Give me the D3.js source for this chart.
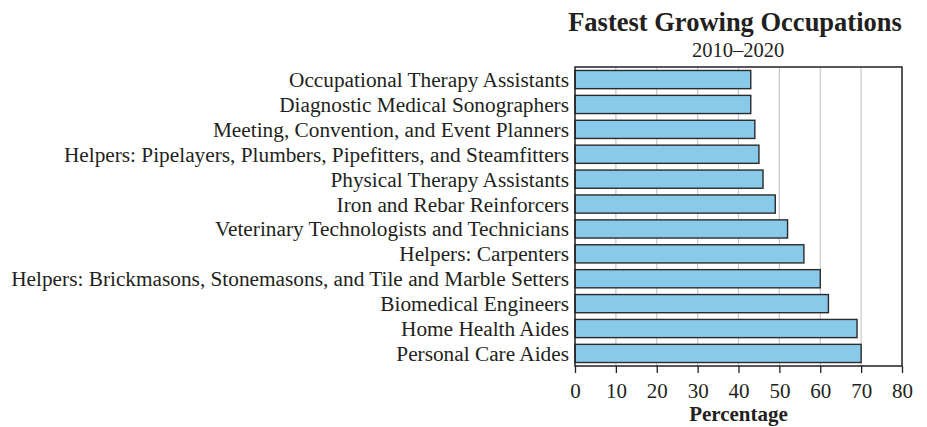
<!DOCTYPE html>
<html>
<head>
<meta charset="utf-8">
<script src="https://cdn.jsdelivr.net/npm/d3@7"></script>
<style>
  body { margin: 0; background: #fff; }
  svg text { font-family: "Liberation Serif", "Times New Roman", serif; fill: #231f20; }
  .title { font-size: 26.5px; font-weight: bold; }
  .subtitle { font-size: 20.5px; }
  .cat { font-size: 21.3px; }
  .axis text { font-size: 21px; }
  .xlabel { font-size: 21px; font-weight: bold; }
</style>
</head>
<body>
<div id="chart"></div>
<script>
const occupations = [
  'Occupational Therapy Assistants',
  'Diagnostic Medical Sonographers',
  'Meeting, Convention, and Event Planners',
  'Helpers: Pipelayers, Plumbers, Pipefitters, and Steamfitters',
  'Physical Therapy Assistants',
  'Iron and Rebar Reinforcers',
  'Veterinary Technologists and Technicians',
  'Helpers: Carpenters',
  'Helpers: Brickmasons, Stonemasons, and Tile and Marble Setters',
  'Biomedical Engineers',
  'Home Health Aides',
  'Personal Care Aides'
];
const growth = [43, 43, 44, 45, 46, 49, 52, 56, 60, 62, 69, 70];
const xTicks = [0, 10, 20, 30, 40, 50, 60, 70, 80];

const W = 927, H = 427;
const margin = {top: 67, right: 25, bottom: 61, left: 575};
const width = W - margin.left - margin.right;
const height = H - margin.top - margin.bottom;

let svg = d3.select('#chart').append('svg')
  .attr('width', W)
  .attr('height', H)

let x = d3.scaleLinear().domain([0, 80]).range([0, width]);
let y = d3.scaleBand().domain(occupations).range([0, height]).paddingInner(0.27).paddingOuter(0.14);

let g = svg.append('g').attr('transform', `translate(${margin.left}, ${margin.top})`);

// gridlines
g.selectAll('line.grid').data(xTicks.slice(1, -1)).enter().append('line')
  .classed('grid', true)
  .attr('x1', d => x(d)).attr('x2', d => x(d))
  .attr('y1', 0).attr('y2', height)
  .attr('stroke', '#c8c8c8')
  .attr('stroke-width', 1.2)

// bars
g.selectAll('rect.bar').data(growth).enter().append('rect')
  .classed('bar', true)
  .attr('x', x(0))
  .attr('y', (d, i) => y(occupations[i]))
  .attr('width', d => x(d))
  .attr('height', y.bandwidth())
  .attr('fill', '#89c9ea')
  .attr('stroke', '#2b2b2b')
  .attr('stroke-width', 1.4)

// frame
g.append('rect')
  .attr('x', 0).attr('y', 0)
  .attr('width', width).attr('height', height)
  .attr('fill', 'none')
  .attr('stroke', '#231f20')
  .attr('stroke-width', 1.5)

// x axis
let xAxis = g.append('g')
  .classed('axis', true)
  .attr('transform', `translate(0, ${height})`)
  .call(d3.axisBottom(x).tickValues(xTicks).tickSize(7).tickPadding(10))
xAxis.select('.domain').remove();
xAxis.selectAll('line').attr('stroke', '#231f20').attr('stroke-width', 1.3);
xAxis.selectAll('text').attr('fill', '#231f20');

// category labels
g.selectAll('text.cat').data(occupations).enter().append('text')
  .classed('cat', true)
  .attr('x', -6)
  .attr('y', d => y(d) + y.bandwidth() / 2)
  .attr('dy', '0.35em')
  .attr('text-anchor', 'end')
  .text(d => d)

svg.append('text')
  .classed('title', true)
  .attr('x', 735).attr('y', 31)
  .attr('text-anchor', 'middle')
  .text('Fastest Growing Occupations')

svg.append('text')
  .classed('subtitle', true)
  .attr('x', 738).attr('y', 57)
  .attr('text-anchor', 'middle')
  .text('2010–2020')

svg.append('text')
  .classed('xlabel', true)
  .attr('x', margin.left + x(40)).attr('y', 421)
  .attr('text-anchor', 'middle')
  .text('Percentage')
</script>
</body>
</html>
